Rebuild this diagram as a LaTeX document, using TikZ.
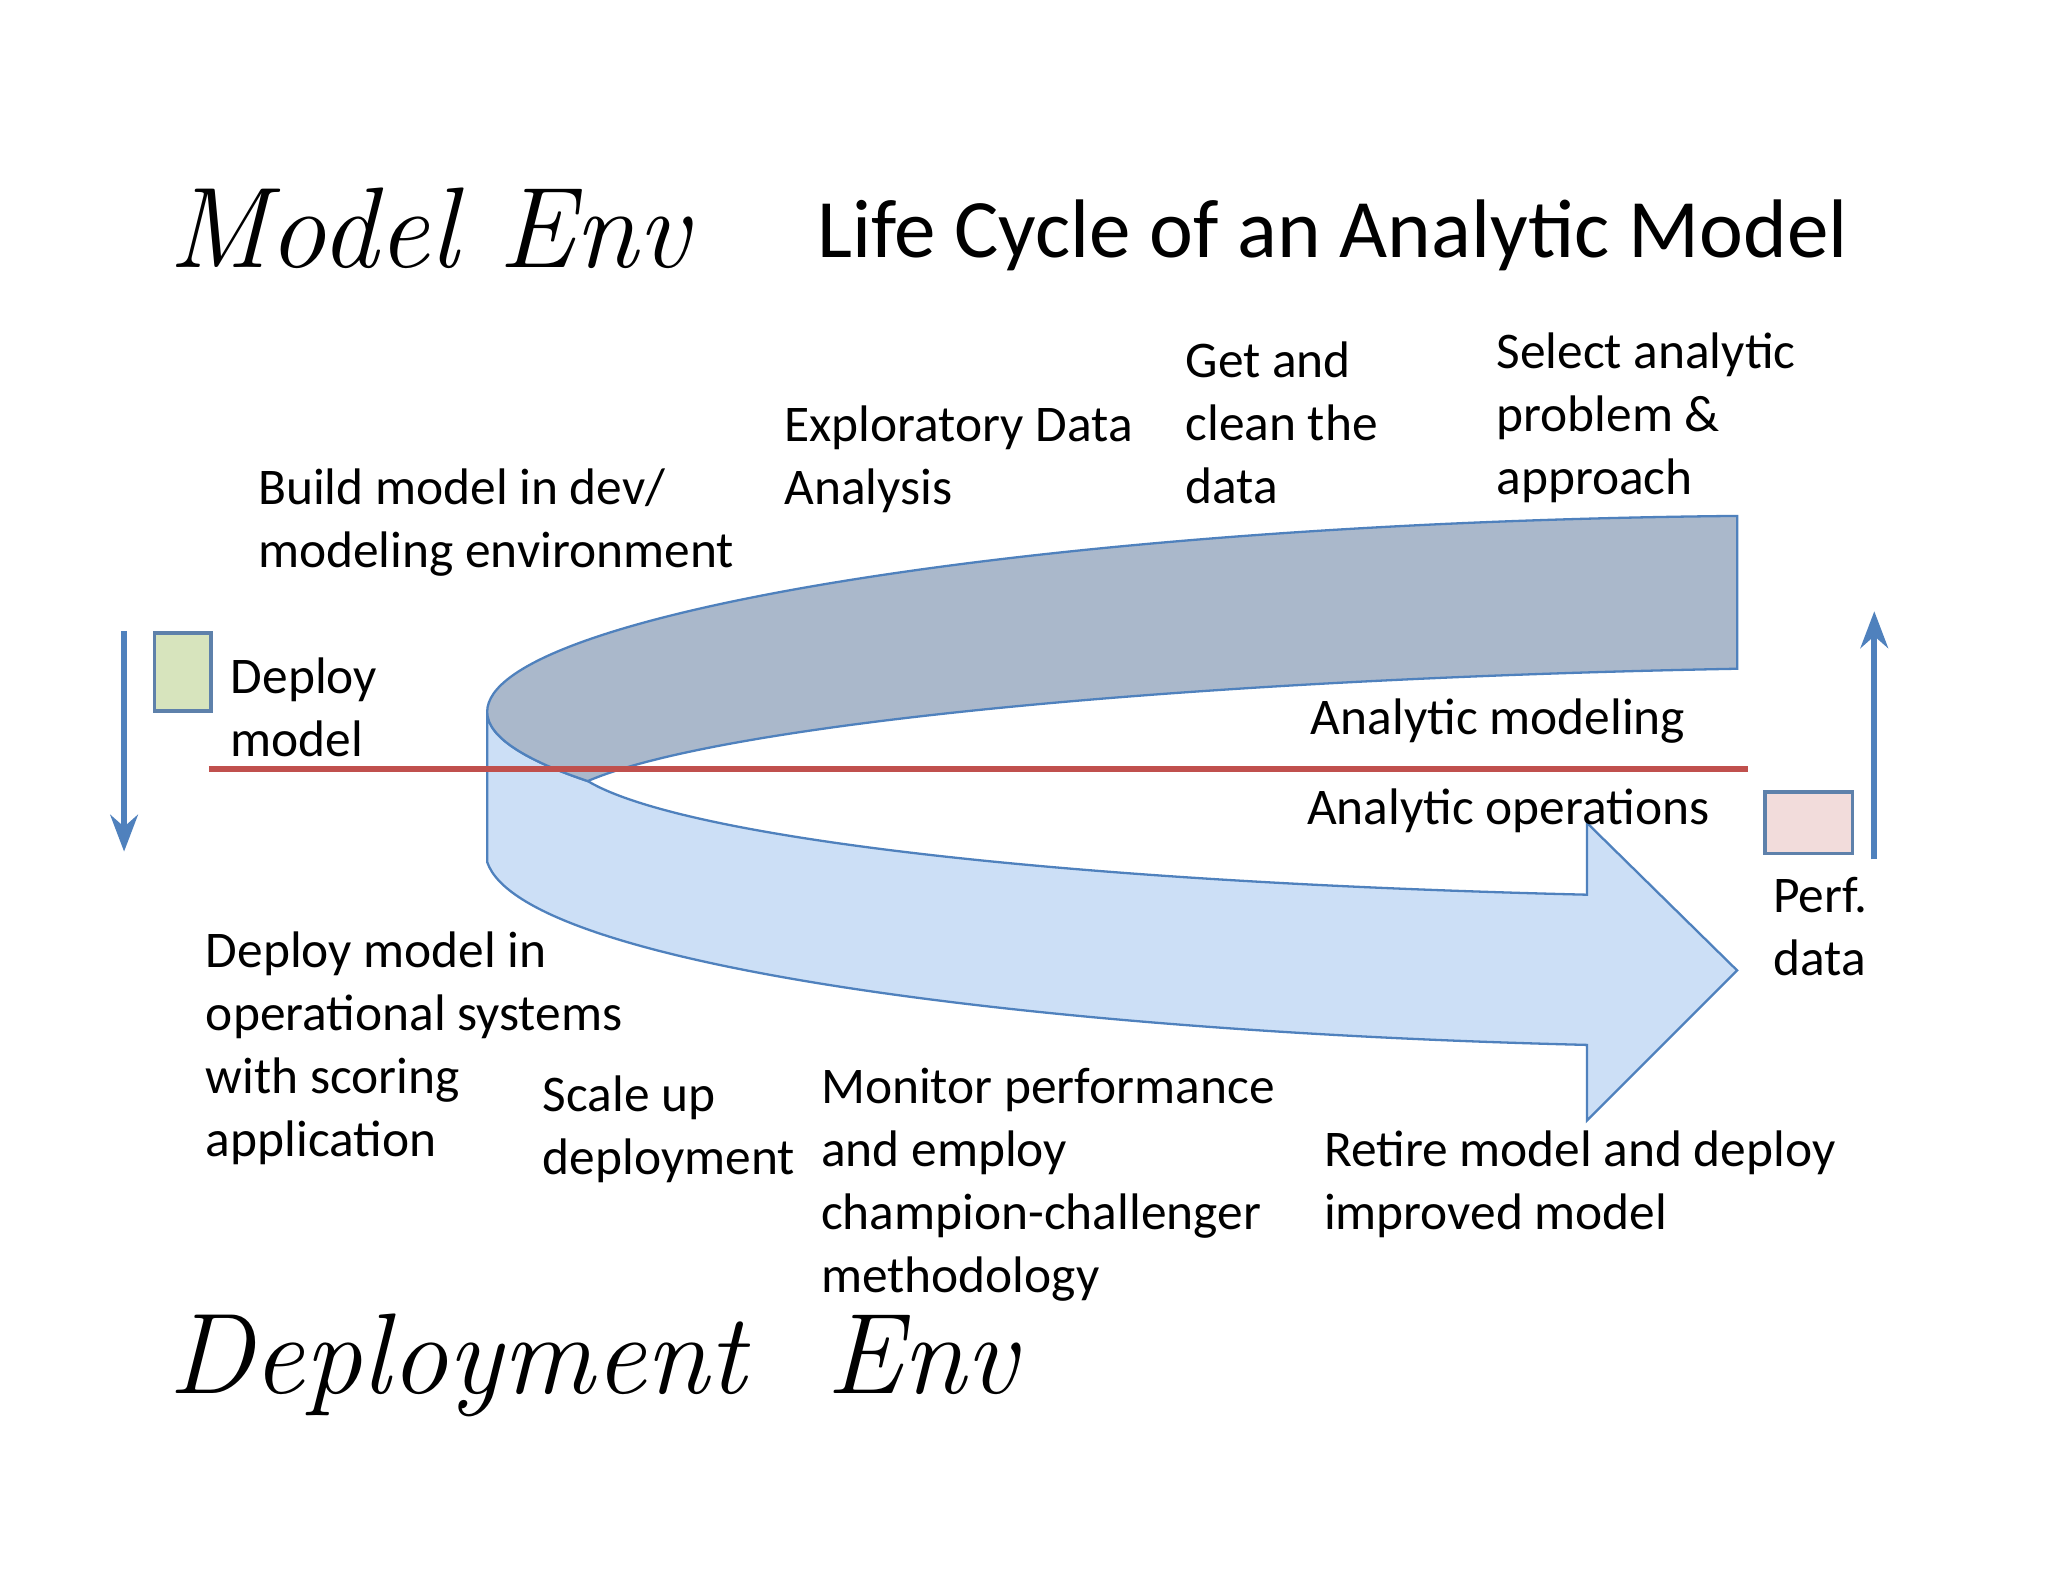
\documentclass[tikz,border=0pt]{standalone}
\usepackage{fontspec}
\setmainfont{Carlito}
\usetikzlibrary{arrows.meta}
\definecolor{bord}{HTML}{4F81BD}
\definecolor{upfill}{HTML}{AAB8CB}
\definecolor{lowfill}{HTML}{CCDFF6}
\definecolor{redl}{HTML}{C0504D}
\tikzset{lbl/.style={anchor=north west,inner sep=0pt,align=left,font=\fontsize{11.2}{13.7}\selectfont},
 env/.style={anchor=west,inner sep=0pt,font=\fontsize{25}{30}\fontfamily{lmr}\selectfont\itshape}}
\begin{document}
\begin{tikzpicture}[x=0.1mm,y=-0.1mm]
\fill[white] (0,0) rectangle (1568,1211);
\useasboundingbox (0,0) rectangle (1568,1211);
% lower band
\draw[bord,fill=lowfill,line width=0.5pt] (373,545) -- (373,660) .. controls (400,740) and (800,790) .. (1215,800) -- (1215,858) -- (1330,743) -- (1215,630) -- (1215,685) .. controls (800,675) and (520,640) .. (450,598) .. controls (405,583) and (373,565) .. (373,545) -- cycle;
% upper band
\draw[bord,fill=upfill,line width=0.5pt] (373,545) .. controls (373,470) and (800,400) .. (1330,395) -- (1330,512) .. controls (900,520) and (550,555) .. (450,598) .. controls (405,583) and (373,565) .. (373,545) -- cycle;
\coordinate (rl1) at (160,589); \coordinate (rl2) at (1338,589);
\draw[redl,line width=1.3pt] (rl1) -- (rl2);
\coordinate (la1) at (95,483); \coordinate (la2) at (95,652);
\draw[bord,line width=1.3pt,-{Stealth[length=8pt,width=6pt,open]}] (la1) -- (la2);
\coordinate (ra1) at (1435,658); \coordinate (ra2) at (1435,468);
\draw[bord,line width=1.3pt,-{Stealth[length=8pt,width=6pt,open]}] (ra1) -- (ra2);
\node[draw=bord!70!gray,minimum width=43*0.1mm,minimum height=60*0.1mm,inner sep=0,anchor=north west,fill={rgb,255:red,215;green,228;blue,189},line width=0.8pt] (gbox) at (117,483) {};
\node[draw=bord!70!gray,fill={rgb,255:red,242;green,220;blue,219},minimum width=67*0.1mm,minimum height=47*0.1mm,inner sep=0,anchor=north west,line width=0.8pt] (pbox) at (1350,605) {};
\node[anchor=west,inner sep=0pt,font=\fontsize{18.1}{22}\selectfont] (title) at (625,180) {Life Cycle of an Analytic Model};
\node[env] (menv) at (128,175) {Model Env};
\node[env] (denv) at (128,1045) {Deployment\ \ Env};
\node[lbl] (n1) at (907,261) {Get and\\clean the\\data};
\node[lbl] (n2) at (1145,254) {Select analytic\\problem \&\\approach};
\node[lbl] (n3) at (600,310) {Exploratory Data\\Analysis};
\node[lbl] (n4) at (197,358) {Build model in dev/\\modeling environment};
\node[lbl] (n5) at (176,503) {Deploy\\model};
\node[lbl] (n6) at (1003,534) {Analytic modeling};
\node[lbl] (n7) at (1000,603) {Analytic operations};
\node[lbl] (n8) at (1357,671) {Perf.\\data};
\node[lbl] (n9) at (157,713) {Deploy model in\\operational systems\\with scoring\\application};
\node[lbl] (n10) at (415,823) {Scale up\\deployment};
\node[lbl] (n11) at (628,817) {Monitor performance\\and employ\\champion-challenger\\methodology};
\node[lbl] (n12) at (1013,865) {Retire model and deploy\\improved model};
\end{tikzpicture}
\end{document}
